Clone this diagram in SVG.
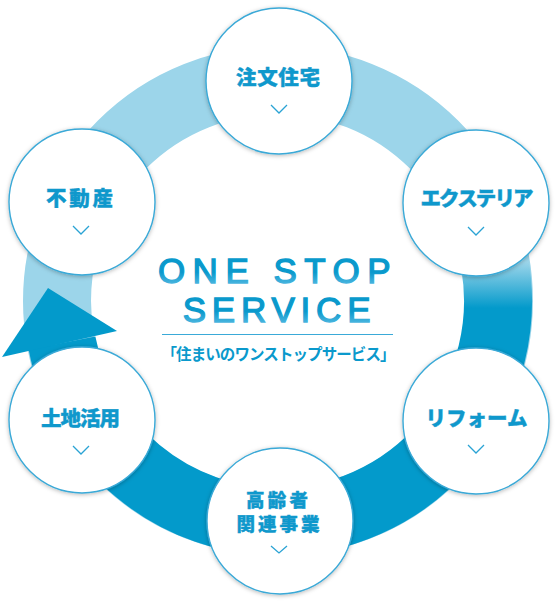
<svg xmlns="http://www.w3.org/2000/svg" width="556" height="602" viewBox="0 0 556 602">
  <defs>
    <linearGradient id="ringGrad" gradientUnits="userSpaceOnUse" x1="0" y1="262" x2="0" y2="308">
      <stop offset="0" stop-color="#9cd5ea"/>
      <stop offset="1" stop-color="#039acb"/>
    </linearGradient>
    <linearGradient id="titleGrad" x1="0" y1="0" x2="0" y2="1">
      <stop offset="0" stop-color="#0a99cc"/>
      <stop offset="0.55" stop-color="#0a99cc"/>
      <stop offset="1" stop-color="#6cc4e9"/>
    </linearGradient>
    <filter id="shadow" x="-20%" y="-20%" width="140%" height="140%">
      <feDropShadow dx="0" dy="1" stdDeviation="2.2" flood-color="#000" flood-opacity="0.28"/>
    </filter>
    <style>
      .node circle { fill: #ffffff; stroke: #3aa9d7; stroke-width: 1.4; filter: url(#shadow); }
      .label { font-family: "Noto Sans CJK JP", "Noto Sans", sans-serif; font-weight: 900; fill: #0f98cc; stroke: #0f98cc; stroke-width: 0.4; text-anchor: middle; }
      .chev { fill: none; stroke: #2aa3d4; stroke-width: 1.3; }
      .title { font-family: "Liberation Sans", Arial, sans-serif; font-size: 35px; fill: url(#titleGrad); stroke: url(#titleGrad); stroke-width: 1.3; text-anchor: middle; }
    </style>
  </defs>

  <g id="connectors">
    <circle cx="278" cy="301" r="221" fill="none" stroke="#9cd5ea" stroke-width="68"/>
    <path d="M 494.7 262.8 A 221 221 0 0 1 278 522 A 221 221 0 0 1 62 343" fill="none" stroke="url(#ringGrad)" stroke-width="68"/>
    <polygon points="48,288 117,331 2,357" fill="#039acb"/>
  </g>

  <g id="center">
    <text class="title" x="278" y="283" letter-spacing="7.5">ONE STOP</text>
    <text class="title" x="279.5" y="322" letter-spacing="5.8">SERVICE</text>
    <line x1="162" y1="334.5" x2="393" y2="334.5" stroke="#3aaad8" stroke-width="1"/>
    <text x="278.5" y="359.5" font-family="'Noto Sans CJK JP', 'Noto Sans', sans-serif" font-size="15.5" font-weight="700" fill="#0a99cc" text-anchor="middle" textLength="234" lengthAdjust="spacing">「住まいのワンストップサービス」</text>
  </g>

  <g id="node-chumon" class="node">
    <circle cx="279" cy="81" r="73"/>
    <text class="label" x="278" y="85" font-size="20.5" textLength="84" lengthAdjust="spacing">注文住宅</text>
    <polyline class="chev" points="271,105 279,113 287,105"/>
  </g>

  <g id="node-exterior" class="node">
    <circle cx="476" cy="203" r="73"/>
    <text class="label" x="477" y="206" font-size="20.5" textLength="113" lengthAdjust="spacing">エクステリア</text>
    <polyline class="chev" points="468,227 476,235 484,227"/>
  </g>

  <g id="node-reform" class="node">
    <circle cx="476" cy="421" r="73"/>
    <text class="label" x="476.5" y="426" font-size="20.5" textLength="102" lengthAdjust="spacing">リフォーム</text>
    <polyline class="chev" points="468,445 476,453 484,445"/>
  </g>

  <g id="node-koureisha" class="node">
    <circle cx="280" cy="521" r="73"/>
    <text class="label" x="277" y="506.5" font-size="18.5" textLength="62" lengthAdjust="spacing">高齢者</text>
    <text class="label" x="278" y="531" font-size="18.5" textLength="83" lengthAdjust="spacing">関連事業</text>
    <polyline class="chev" points="271,546 279,553 287,546"/>
  </g>

  <g id="node-tochi" class="node">
    <circle cx="82" cy="420" r="73"/>
    <text class="label" x="80.5" y="426" font-size="20.5" textLength="79" lengthAdjust="spacing">土地活用</text>
    <polyline class="chev" points="73,446 81,454 89,446"/>
  </g>

  <g id="node-fudousan" class="node">
    <circle cx="82" cy="202" r="73"/>
    <text class="label" x="79.5" y="206" font-size="20.5" textLength="67" lengthAdjust="spacing">不動産</text>
    <polyline class="chev" points="73,226 81,234 89,226"/>
  </g>
</svg>
